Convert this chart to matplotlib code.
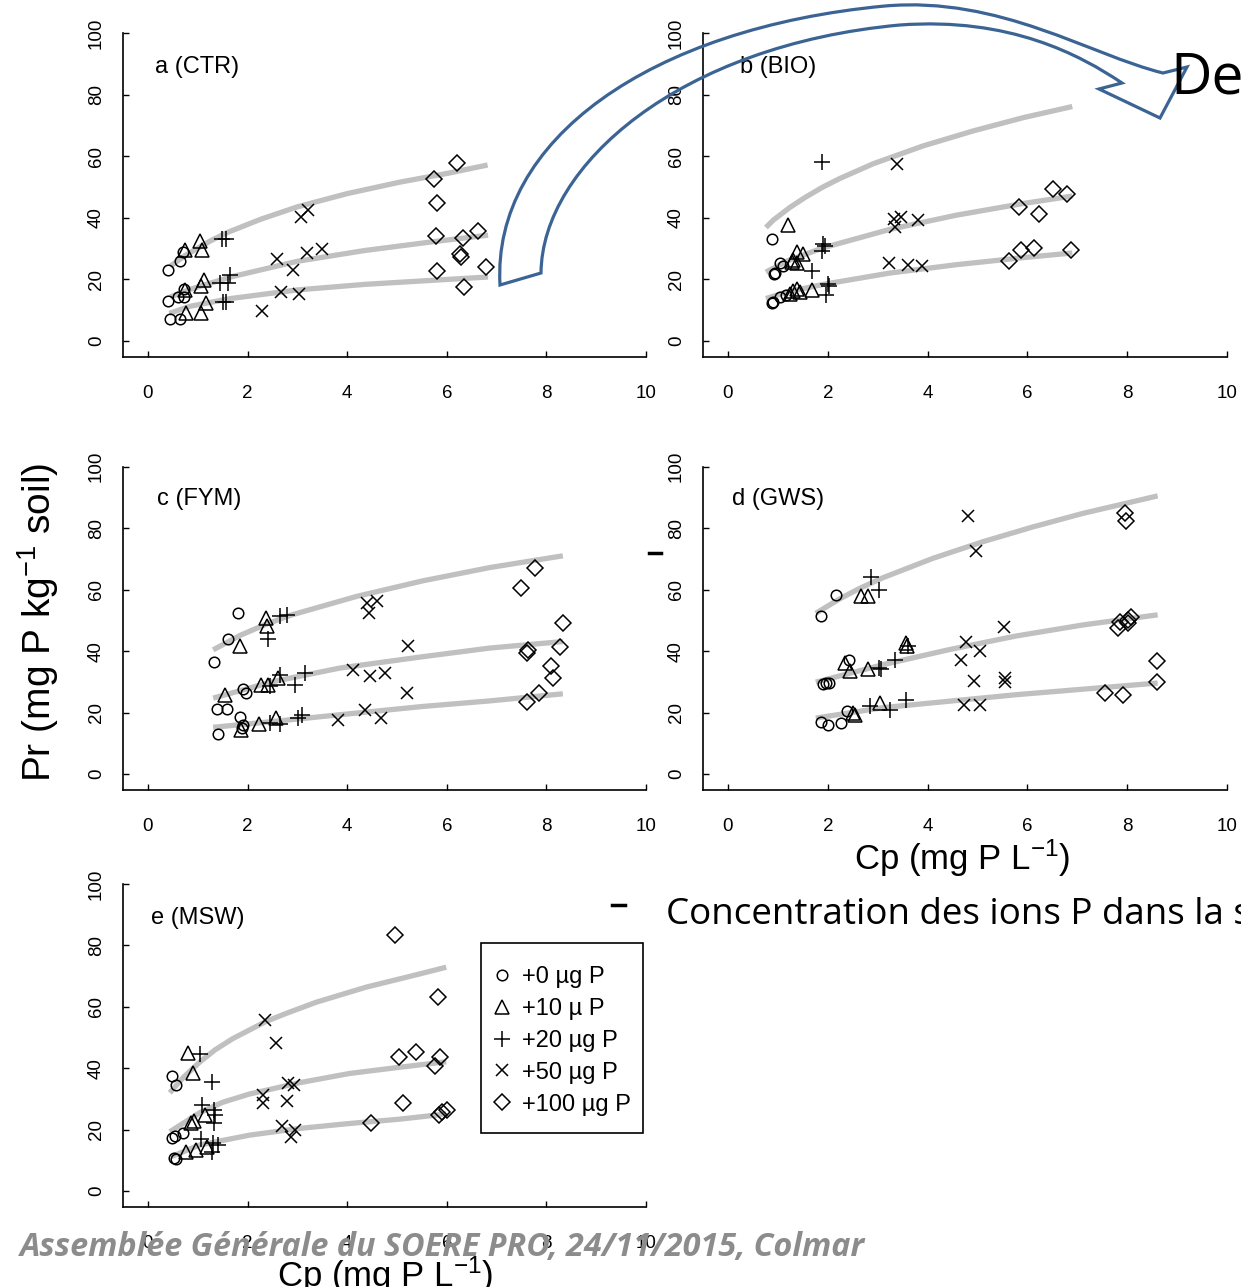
import matplotlib
matplotlib.use('Agg')
import matplotlib.pyplot as plt
from matplotlib.path import Path
from matplotlib.patches import PathPatch, Rectangle
from matplotlib.lines import Line2D

# sorption data Pr = f(Cp), five soils, five P additions
labels = ['+0 µg P', '+10 µ P', '+20 µg P', '+50 µg P', '+100 µg P']
markers = ['o', '^', '+', 'x', 'D']
msizes = [7.6, 10, 11, 9, 8]

# a (CTR)
a_cp = [[0.41, 0.65, 0.41, 0.61, 0.72, 0.72, 0.45, 0.64, 0.70],
        [0.74, 1.05, 1.08, 1.13, 1.06, 0.74, 1.16, 1.06, 0.77],
        [1.49, 1.57, 1.44, 1.65, 1.60, 1.50, 1.57],
        [3.07, 3.21, 2.60, 2.92, 3.19, 3.49, 2.67, 3.04, 2.30],
        [6.21, 5.75, 5.81, 5.78, 6.33, 6.63, 6.27, 6.29, 5.81, 6.78, 6.35]]
a_pr = [[23.2, 26.0, 12.9, 14.3, 14.3, 17.0, 7.0, 7.0, 29.0],
        [29.5, 32.5, 29.5, 19.8, 17.8, 16.5, 12.3, 9.0, 9.0],
        [33.3, 33.3, 18.7, 21.3, 18.7, 12.7, 12.7],
        [40.3, 42.7, 26.8, 23.0, 28.7, 30.0, 15.9, 15.4, 9.8],
        [57.9, 52.8, 44.9, 34.1, 33.6, 35.8, 28.2, 27.2, 22.7, 23.9, 17.6]]
a_fit_cp = [[0.45, 0.75, 1.25, 1.6, 2.27, 3.0, 4.0, 5.05, 6.05, 6.82],
            [0.45, 0.85, 1.66, 3.0, 4.35, 5.69, 6.83],
            [0.43, 0.85, 1.66, 3.0, 4.35, 5.69, 6.83]]
a_fit_pr = [[24.3, 27.8, 32.5, 35.3, 39.6, 43.6, 47.9, 51.6, 54.6, 57.2],
            [14.3, 16.8, 20.8, 25.9, 29.4, 32.2, 34.4],
            [9.0, 11.3, 13.8, 16.6, 18.4, 19.7, 20.8]]

# b (BIO)
b_cp = [[0.88, 1.04, 1.10, 0.92, 0.95, 0.88, 0.91, 1.04, 1.16],
        [1.21, 1.38, 1.51, 1.31, 1.39, 1.28, 1.38, 1.45, 1.30, 1.68, 1.24],
        [1.88, 1.90, 1.95, 1.88, 1.68, 2.00, 2.03, 1.96],
        [3.38, 3.33, 3.46, 3.35, 3.80, 3.23, 3.61, 3.88],
        [6.51, 6.79, 5.84, 6.24, 5.87, 6.14, 5.64, 6.87]]
b_pr = [[33.1, 25.3, 24.3, 21.8, 22.0, 12.3, 12.7, 14.3, 15.1],
        [37.6, 29.0, 28.4, 26.3, 25.2, 25.7, 17.0, 16.0, 16.3, 16.5, 15.4],
        [58.3, 31.5, 30.8, 29.4, 22.6, 18.5, 17.8, 14.8],
        [57.4, 39.8, 40.4, 37.1, 39.3, 25.2, 24.6, 24.4],
        [49.3, 47.7, 43.4, 41.4, 29.7, 30.3, 26.0, 29.7]]
b_fit_cp = [[0.76, 0.91, 1.24, 1.55, 1.91, 2.24, 2.91, 3.91, 4.92, 5.92, 6.9],
            [0.76, 1.2, 1.91, 3.25, 4.58, 5.92, 6.9],
            [0.76, 1.2, 1.91, 3.25, 4.58, 5.92, 6.9]]
b_fit_pr = [[36.9, 39.3, 43.4, 46.7, 50.1, 52.8, 57.6, 63.4, 68.3, 72.6, 76.2],
            [22.4, 26.1, 30.3, 36.3, 40.9, 44.7, 47.1],
            [13.8, 16.0, 18.4, 22.1, 24.8, 27.1, 28.6]]

# c (FYM)
c_cp = [[1.81, 1.60, 1.33, 1.38, 1.59, 1.91, 1.97, 1.85, 1.89, 1.91, 1.40],
        [2.37, 2.40, 1.85, 1.55, 2.28, 2.42, 2.62, 2.58, 2.23, 1.86],
        [2.65, 2.80, 2.42, 2.66, 2.45, 2.95, 3.15, 2.45, 2.65, 3.02, 3.10],
        [4.39, 4.59, 4.44, 5.23, 4.12, 4.46, 4.76, 5.21, 4.36, 4.67, 3.82],
        [7.77, 7.49, 8.33, 7.62, 7.64, 8.27, 8.09, 8.14, 7.86, 7.62]]
c_pr = [[52.3, 44.0, 36.3, 21.1, 21.1, 27.6, 26.5, 18.7, 15.0, 16.0, 13.1],
        [50.7, 48.2, 41.5, 25.8, 29.0, 29.0, 31.2, 18.2, 16.4, 14.4],
        [51.5, 51.8, 43.9, 32.3, 28.5, 29.0, 33.0, 16.6, 16.4, 18.2, 19.3],
        [55.6, 56.3, 52.5, 41.5, 33.7, 32.0, 33.0, 26.3, 20.9, 18.2, 17.7],
        [67.0, 60.5, 49.1, 39.5, 40.2, 41.3, 35.0, 31.2, 26.5, 23.3]]
c_fit_cp = [[1.31, 1.85, 2.35, 2.85, 4.19, 5.53, 6.87, 8.33],
            [1.31, 2.52, 3.86, 5.53, 6.87, 8.33],
            [1.31, 2.52, 3.86, 5.53, 6.87, 8.33]]
c_fit_pr = [[40.4, 45.1, 48.6, 51.6, 57.8, 62.9, 67.2, 71.0],
            [24.7, 30.1, 34.5, 38.2, 41.0, 43.1],
            [15.2, 17.1, 19.3, 22.0, 23.8, 26.1]]

# d (GWS)
d_cp = [[2.17, 1.87, 2.43, 1.91, 1.97, 2.03, 1.87, 2.01, 2.27, 2.39],
        [2.67, 2.81, 3.57, 3.59, 2.34, 2.45, 2.81, 3.04, 2.51, 2.54],
        [2.86, 3.03, 3.34, 3.07, 3.03, 3.61, 2.84, 3.24, 3.57],
        [4.82, 4.97, 4.77, 5.54, 5.05, 4.66, 4.93, 5.55, 5.55, 4.72, 5.06],
        [7.96, 7.98, 7.81, 7.86, 8.01, 8.07, 8.02, 8.59, 8.59, 7.56, 7.91]]
d_pr = [[58.3, 51.5, 37.2, 29.2, 29.5, 29.6, 16.9, 15.8, 16.5, 20.4],
        [58.0, 58.0, 42.6, 41.8, 36.1, 33.4, 34.1, 23.1, 19.9, 19.3],
        [64.2, 59.9, 37.2, 34.1, 34.4, 41.5, 22.0, 20.9, 24.2],
        [84.0, 72.6, 42.8, 47.7, 40.1, 37.2, 30.4, 31.1, 29.8, 22.5, 22.5],
        [84.8, 82.4, 47.5, 49.6, 50.1, 51.0, 49.3, 36.8, 29.9, 26.3, 25.8]]
d_fit_cp = [[1.76, 2.24, 2.65, 3.11, 4.11, 5.11, 6.11, 7.11, 8.61],
            [1.76, 3.11, 4.44, 5.77, 7.11, 8.61],
            [1.76, 3.11, 4.44, 5.77, 7.11, 8.61]]
d_fit_pr = [[52.3, 57.0, 60.5, 63.9, 70.2, 75.6, 80.4, 84.8, 90.5],
            [29.9, 35.6, 40.5, 44.9, 48.5, 51.8],
            [18.2, 21.6, 23.7, 25.8, 27.6, 29.6]]

# e (MSW)
e_cp = [[0.48, 0.57, 0.48, 0.54, 0.71, 0.53, 0.56],
        [0.80, 0.91, 0.86, 0.92, 1.15, 0.77, 0.97, 1.18],
        [1.05, 1.28, 1.09, 1.33, 1.34, 1.32, 1.06, 1.31, 1.40, 1.29],
        [2.36, 2.58, 2.31, 2.31, 2.81, 2.93, 2.80, 2.69, 2.96, 2.87],
        [4.97, 5.83, 5.04, 5.38, 5.87, 5.77, 4.48, 5.13, 6.00, 5.85, 5.90]]
e_pr = [[37.5, 34.5, 17.2, 18.0, 18.9, 10.6, 10.3],
        [44.8, 38.6, 22.3, 22.8, 24.8, 12.8, 13.3, 14.4],
        [44.7, 35.4, 28.0, 26.4, 24.8, 22.0, 17.0, 15.5, 15.0, 12.8],
        [55.7, 48.3, 31.3, 28.6, 35.1, 34.5, 29.3, 21.2, 19.9, 17.5],
        [83.4, 63.3, 43.8, 45.4, 43.6, 40.7, 22.0, 28.6, 26.4, 24.8, 25.6]]
e_fit_cp = [[0.44, 0.71, 1.04, 1.35, 1.71, 2.38, 2.8, 3.38, 4.38, 5.38, 5.99],
            [0.44, 1.04, 1.5, 2.04, 3.05, 4.05, 5.05, 5.99],
            [0.47, 1.04, 2.04, 3.05, 4.05, 5.05, 5.99]]
e_fit_pr = [[32.0, 37.0, 42.0, 46.0, 49.7, 55.3, 58.0, 61.5, 66.4, 70.4, 72.9],
            [19.3, 25.5, 28.9, 31.6, 35.3, 38.3, 40.3, 42.1],
            [11.2, 15.0, 18.2, 20.4, 22.0, 23.4, 25.1]]

W, H = 1241, 1287
plt.rcParams['font.family'] = ['Liberation Sans', 'DejaVu Sans']
plt.rcParams['mathtext.fontset'] = 'custom'
plt.rcParams['mathtext.rm'] = 'Liberation Sans'
plt.rcParams['mathtext.it'] = 'Liberation Sans:italic'

fig = plt.figure(figsize=(W / 100, H / 100), dpi=100)


def px_box(left, right, top, bottom):
    return [left / W, 1 - bottom / H, (right - left) / W, (bottom - top) / H]


panels = [
    (a_cp, a_pr, a_fit_cp, a_fit_pr, 'a (CTR)', (0.14, 89.0), (123, 646, 33.3, 357)),
    (b_cp, b_pr, b_fit_cp, b_fit_pr, 'b (BIO)', (0.24, 89.0), (703, 1227, 33.3, 357)),
    (c_cp, c_pr, c_fit_cp, c_fit_pr, 'c (FYM)', (0.18, 89.4), (123, 646, 466.7, 790)),
    (d_cp, d_pr, d_fit_cp, d_fit_pr, 'd (GWS)', (0.08, 89.4), (703, 1227, 466.7, 790)),
    (e_cp, e_pr, e_fit_cp, e_fit_pr, 'e (MSW)', (0.06, 88.8), (123, 646, 884, 1207)),
]


def marker_style(i):
    if markers[i] in ('+', 'x'):
        return dict(ls='none', marker=markers[i], ms=msizes[i], mew=1.1, color='black')
    return dict(ls='none', marker=markers[i], ms=msizes[i], mew=1.1,
                mfc='none', mec='black')


axes = []
for cp, pr, fcp, fpr, name, tpos, box in panels:
    ax = fig.add_axes(px_box(*box))
    for fx, fy in zip(fcp, fpr):
        ax.plot(fx, fy, color='#c0c0c0', lw=3.8, solid_capstyle='butt',
                solid_joinstyle='round', zorder=1)
    for i in range(5):
        ax.plot(cp[i], pr[i], zorder=3, **marker_style(i))
    ax.set_xlim(-0.5, 10)
    ax.set_ylim(-5.2, 100)
    ax.set_xticks([0, 2, 4, 6, 8, 10])
    ax.set_yticks([0, 20, 40, 60, 80, 100])
    ax.spines['top'].set_visible(False)
    ax.spines['right'].set_visible(False)
    for s in ('left', 'bottom'):
        ax.spines[s].set_linewidth(1.2)
    ax.tick_params(direction='in', length=4, width=1, labelsize=13.5)
    ax.tick_params(axis='x', pad=20)
    ax.tick_params(axis='y', pad=13, labelrotation=90)
    for lbl in ax.get_yticklabels():
        lbl.set_va('center')
    ax.patch.set_alpha(0)
    ax.text(tpos[0], tpos[1], name, fontsize=17, va='center', ha='left')
    axes.append(ax)

handles = [Line2D([], [], **marker_style(i)) for i in range(5)]
leg = axes[4].legend(handles, labels, loc='upper left', fontsize=17,
                     bbox_to_anchor=(490 / W, 1 - 966 / H), bbox_transform=fig.transFigure,
                     borderaxespad=0, borderpad=0, frameon=False,
                     handlelength=1.0, handletextpad=0.36, labelspacing=0.42)

# slide overlay: labels, curved arrow, text
ov = fig.add_axes([0, 0, 1, 1], zorder=10)
ov.set_xlim(0, W)
ov.set_ylim(H, 0)
ov.axis('off')
ov.patch.set_alpha(0)

# legend frame
ov.add_patch(Rectangle((481, 943), 162, 190, facecolor='none', edgecolor='black', lw=1.2))

ov.text(38, 622, r'Pr (mg P kg$^{-1}$ soil)', rotation=90, fontsize=28,
        ha='center', va='center')
ov.text(962, 858, r'Cp (mg P L$^{-1}$)', fontsize=25, ha='center', va='center')
ov.text(385, 1275, r'Cp (mg P L$^{-1}$)', fontsize=25, ha='center', va='center')

M, C, L = Path.MOVETO, Path.CURVE4, Path.LINETO
arrow_verts = [(500, 285), (492, 140), (650, 28), (885, 6),
               (1000, -4), (1090, 55), (1163, 73),
               (1187, 67), (1160, 118), (1099, 89), (1122, 83),
               (1080, 55), (1010, 17), (900, 25),
               (680, 45), (542, 165), (541, 273),
               (500, 285)]
arrow_codes = [M, C, C, C, C, C, C, L, L, L, L, C, C, C, C, C, C, Path.CLOSEPOLY]
ov.add_patch(PathPatch(Path(arrow_verts, arrow_codes), facecolor='none',
                       edgecolor='#3b6494', lw=2.3, joinstyle='miter'))

ov.text(1170, 93, 'De', fontsize=41, family=['Open Sans', 'DejaVu Sans'],
        ha='left', va='baseline')
ov.text(666, 915, 'Concentration des ions P dans la solution', fontsize=26.5,
        family=['Open Sans', 'DejaVu Sans'], ha='left', va='center')
ov.plot([612, 625], [905, 905], color='black', lw=2.5)
ov.plot([649, 661], [553, 553], color='black', lw=2.5)
ov.text(20, 1247, 'Assemblée Générale du SOERE PRO, 24/11/2015, Colmar', fontsize=23.3,
        family=['Open Sans', 'DejaVu Sans'], style='italic', weight='bold',
        color='#8c8c8c', ha='left', va='center')

fig.savefig('out.png', dpi=100)
